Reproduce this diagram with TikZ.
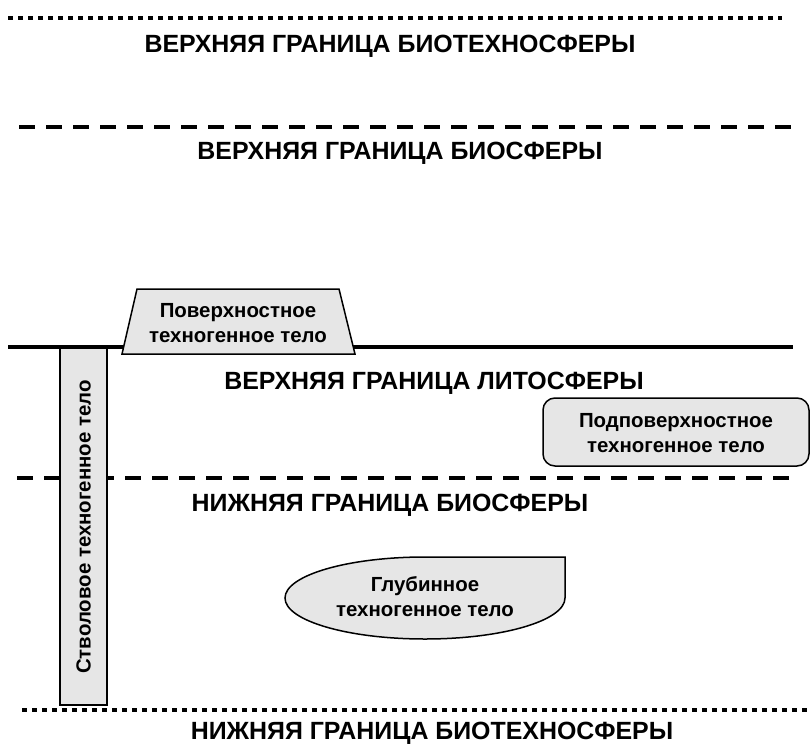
\documentclass[tikz,border=0pt]{standalone}
\usepackage{fontspec}
\setmainfont{Liberation Sans}
\definecolor{bodyfill}{RGB}{230,230,230}
\begin{document}
\begin{tikzpicture}[x=1bp,y=-1bp,line join=miter]
	\tikzset{
		border/.style={font=\fontsize{25}{25}\selectfont\bfseries},
		body/.style={draw,fill=bodyfill,line width=1.5bp},
		bodytext/.style={align=center,font=\fontsize{20.5}{25}\selectfont\bfseries},
		dotline/.style={line width=4.5bp,dash pattern=on 4.5bp off 5.5bp},
		dashline/.style={line width=4bp,dash pattern=on 16bp off 11bp}
	}
	\useasboundingbox (0,0) rectangle (811,745);
	% upper boundaries
	\draw[dotline] (8,18)--(782,18);
	\node[border] (btop) at (390,46) {ВЕРХНЯЯ ГРАНИЦА БИОТЕХНОСФЕРЫ};
	\draw[dashline] (19,127)--(795,127);
	\node[border] (biotop) at (400,153) {ВЕРХНЯЯ ГРАНИЦА БИОСФЕРЫ};
	% surface of lithosphere
	\draw[line width=3.5bp] (8,347)--(793,347);
	\node[border] (lito) at (434,383) {ВЕРХНЯЯ ГРАНИЦА ЛИТОСФЕРЫ};
	\draw[dashline] (17,478)--(795,478);
	\node[border] (biobot) at (390,505) {НИЖНЯЯ ГРАНИЦА БИОСФЕРЫ};
	\draw[dotline] (22,710)--(810,710);
	\node[border] (bbot) at (432,733) {НИЖНЯЯ ГРАНИЦА БИОТЕХНОСФЕРЫ};
	% technogenic bodies
	\draw[body] (122,354)--(137,289)--(339,289)--(355,354)--cycle;
	\node[bodytext] (surf) at (238,323) {Поверхностное\\техногенное тело};
	\draw[body] (60,348) rectangle (107,705);
	\node[bodytext,rotate=90] (shaft) at (83.5,527) {Стволовое техногенное тело};
	\draw[body,rounded corners=12bp] (543,398) rectangle (809,466);
	\node[bodytext] (subsurf) at (676,433) {Подповерхностное\\техногенное тело};
	\draw[body] (565,598)--(565,557)--(425,557) arc[start angle=270,end angle=0,x radius=140,y radius=41];
	\node[bodytext] (deep) at (425,597) {Глубинное\\техногенное тело};
\end{tikzpicture}
\end{document}
